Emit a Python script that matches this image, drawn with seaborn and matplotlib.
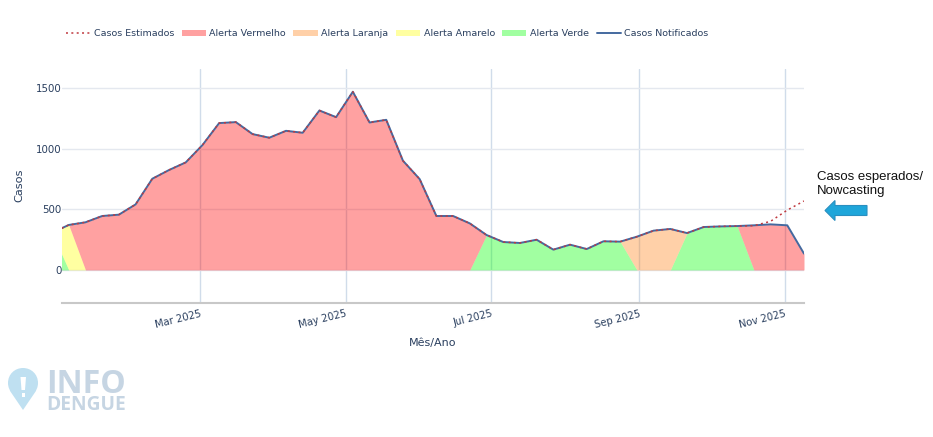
import numpy as np
import pandas as pd
import seaborn as sns
import matplotlib.pyplot as plt
import matplotlib.dates as mdates
import matplotlib.patches as mpatches
from matplotlib.lines import Line2D
from matplotlib.path import Path

W, H = 933, 437

start_date = "2024-12-29"
notified = [308, 372, 394, 446, 457, 542, 754, 826, 889, 1032, 1214, 1222, 1123, 1093,
            1150, 1134, 1318, 1263, 1473, 1219, 1241, 903, 751, 446, 446, 385, 289, 231,
            223, 250, 168, 209, 173, 237, 234, 275, 325, 339, 305, 355, 360, 363, 369,
            377, 369, 135]
estimated = [308, 372, 394, 446, 457, 542, 754, 826, 889, 1032, 1214, 1222, 1123, 1093,
             1150, 1134, 1318, 1263, 1473, 1219, 1241, 903, 751, 446, 446, 385, 289, 231,
             223, 250, 168, 209, 173, 237, 234, 275, 325, 339, 305, 355, 360, 363, 366,
             402, 495, 570]
# g = verde, y = amarelo, o = laranja, r = vermelho
alert = list("gy" + "r" * 24 + "g" * 9 + "ooo" + "gggg" + "rrrr")

month_ticks = ["2025-03-01", "2025-05-01", "2025-07-01", "2025-09-01", "2025-11-01"]
y_ticks = [0, 500, 1000, 1500]

text_color = "#2a3f5f"
colors = {"r": "#ff0000", "o": "#ff8014", "y": "#ffff00", "g": "#00ff00"}
names = {"r": "Alerta Vermelho", "o": "Alerta Laranja", "y": "Alerta Amarelo", "g": "Alerta Verde"}
fill_alpha = 0.37


def px(x, y):
    return x / W, 1 - y / H


dates = pd.date_range(start_date, periods=len(notified), freq="7D")
df = pd.DataFrame({"data": dates, "notificados": notified, "estimados": estimated, "alerta": alert})

sns.set_theme(style="white")
plt.rcParams["font.family"] = ["DejaVu Sans"]

fig = plt.figure(figsize=(W / 100, H / 100), dpi=100)
ax = fig.add_axes([62 / W, 1 - 303 / H, (804 - 62) / W, (303 - 69) / H])

order = ["g", "y", "o", "r"]
stacks = [np.where(df["alerta"] == k, df["notificados"], 0) for k in order]
ax.stackplot(df["data"], stacks, colors=[colors[k] for k in order], alpha=fill_alpha, linewidth=0)

sns.lineplot(data=df, x="data", y="notificados", ax=ax, color="#44699f", linewidth=1.4, zorder=4)
sns.lineplot(data=df, x="data", y="estimados", ax=ax, color="#c0393f", linewidth=1.1,
             linestyle=(0, (1.3, 2.2)), zorder=5)

ax.set_xlim(pd.Timestamp("2025-01-02 04:00"), pd.Timestamp("2025-11-09"))
ax.set_ylim(-273, 1661)
ax.set_xticks(pd.to_datetime(month_ticks))
ax.xaxis.set_major_formatter(mdates.DateFormatter("%b %Y"))
ax.set_yticks(y_ticks)
ax.set_axisbelow(True)
ax.grid(axis="y", color="#e4e8ef", linewidth=1)
ax.grid(axis="x", color="#d0dcea", linewidth=1)
for side in ["top", "left", "right"]:
    ax.spines[side].set_visible(False)
ax.spines["bottom"].set_color("#c8c8c8")
ax.spines["bottom"].set_linewidth(1.5)
ax.tick_params(axis="y", length=0, labelsize=7.4, labelcolor=text_color, pad=0.5)
ax.tick_params(axis="x", length=0, labelsize=7.2, labelcolor=text_color, pad=4)
for lab in ax.get_xticklabels():
    lab.set_rotation(14)
    lab.set_ha("right")
    lab.set_rotation_mode("anchor")
ax.set_xlabel("")
ax.set_ylabel("")
fig.text(*px(433, 343), "Mês/Ano", color=text_color, fontsize=8, ha="center", va="center")
fig.text(*px(19, 185), "Casos", color=text_color, fontsize=8.2, ha="center", va="center", rotation=90)

handles = [
    Line2D([], [], color="#c0393f", linewidth=1.1, linestyle=(0, (1.3, 2.2))),
    *[mpatches.Patch(color=colors[k], alpha=fill_alpha, linewidth=0, label=names[k]) for k in ["r", "o", "y", "g"]],
    Line2D([], [], color="#44699f", linewidth=1.4),
]
labels = ["Casos Estimados"] + [names[k] for k in ["r", "o", "y", "g"]] + ["Casos Notificados"]
fig.legend(handles, labels, ncol=6, loc="center left", bbox_to_anchor=px(66, 34), frameon=False,
           fontsize=6.8, labelcolor=text_color, handlelength=2.55, handleheight=0.5,
           handletextpad=0.4, columnspacing=0.78, borderpad=0, borderaxespad=0)

# anotacao e seta
fig.text(*px(817, 184), "Casos esperados/\nNowcasting", fontsize=9.5, family="Liberation Sans",
         color="#111111", ha="left", va="center", linespacing=1.3)
arrow_pts = [(825, 210.5), (835, 200.5), (835, 205.5), (867, 205.5), (867, 215.5), (835, 215.5), (835, 220.5)]
fig.add_artist(mpatches.Polygon([px(*p) for p in arrow_pts], closed=True, transform=fig.transFigure,
                                facecolor="#1fa6da", edgecolor="#2a8fc0", linewidth=0.8))

# logo
pin = Path(
    [px(23, 410), px(14, 396), px(8, 391), px(8, 383), px(8, 374), px(15, 368), px(23, 368),
     px(31, 368), px(38, 374), px(38, 383), px(38, 391), px(32, 396), px(23, 410)],
    [Path.MOVETO] + [Path.CURVE4] * 12,
)
fig.add_artist(mpatches.PathPatch(pin, transform=fig.transFigure, facecolor="#bfe0f1", edgecolor="none"))
bang = [(20.5, 377), (26, 377), (25, 390), (21.5, 390)]
fig.add_artist(mpatches.Polygon([px(*p) for p in bang], closed=True, transform=fig.transFigure,
                                facecolor="white", edgecolor="none"))
fig.add_artist(mpatches.Rectangle(px(21.5, 397), 3.5 / W, 4.5 / H, transform=fig.transFigure,
                                  facecolor="white", edgecolor="none"))
fig.text(*px(46, 393), "INFO", fontsize=23, family="Open Sans", fontweight="bold", color="#c6d5e3",
         ha="left", va="baseline")
fig.text(*px(46, 410.5), "DENGUE", fontsize=13.8, family="Open Sans", fontweight="bold", color="#c6d5e3",
         ha="left", va="baseline")

fig.savefig("out.png", dpi=100)
